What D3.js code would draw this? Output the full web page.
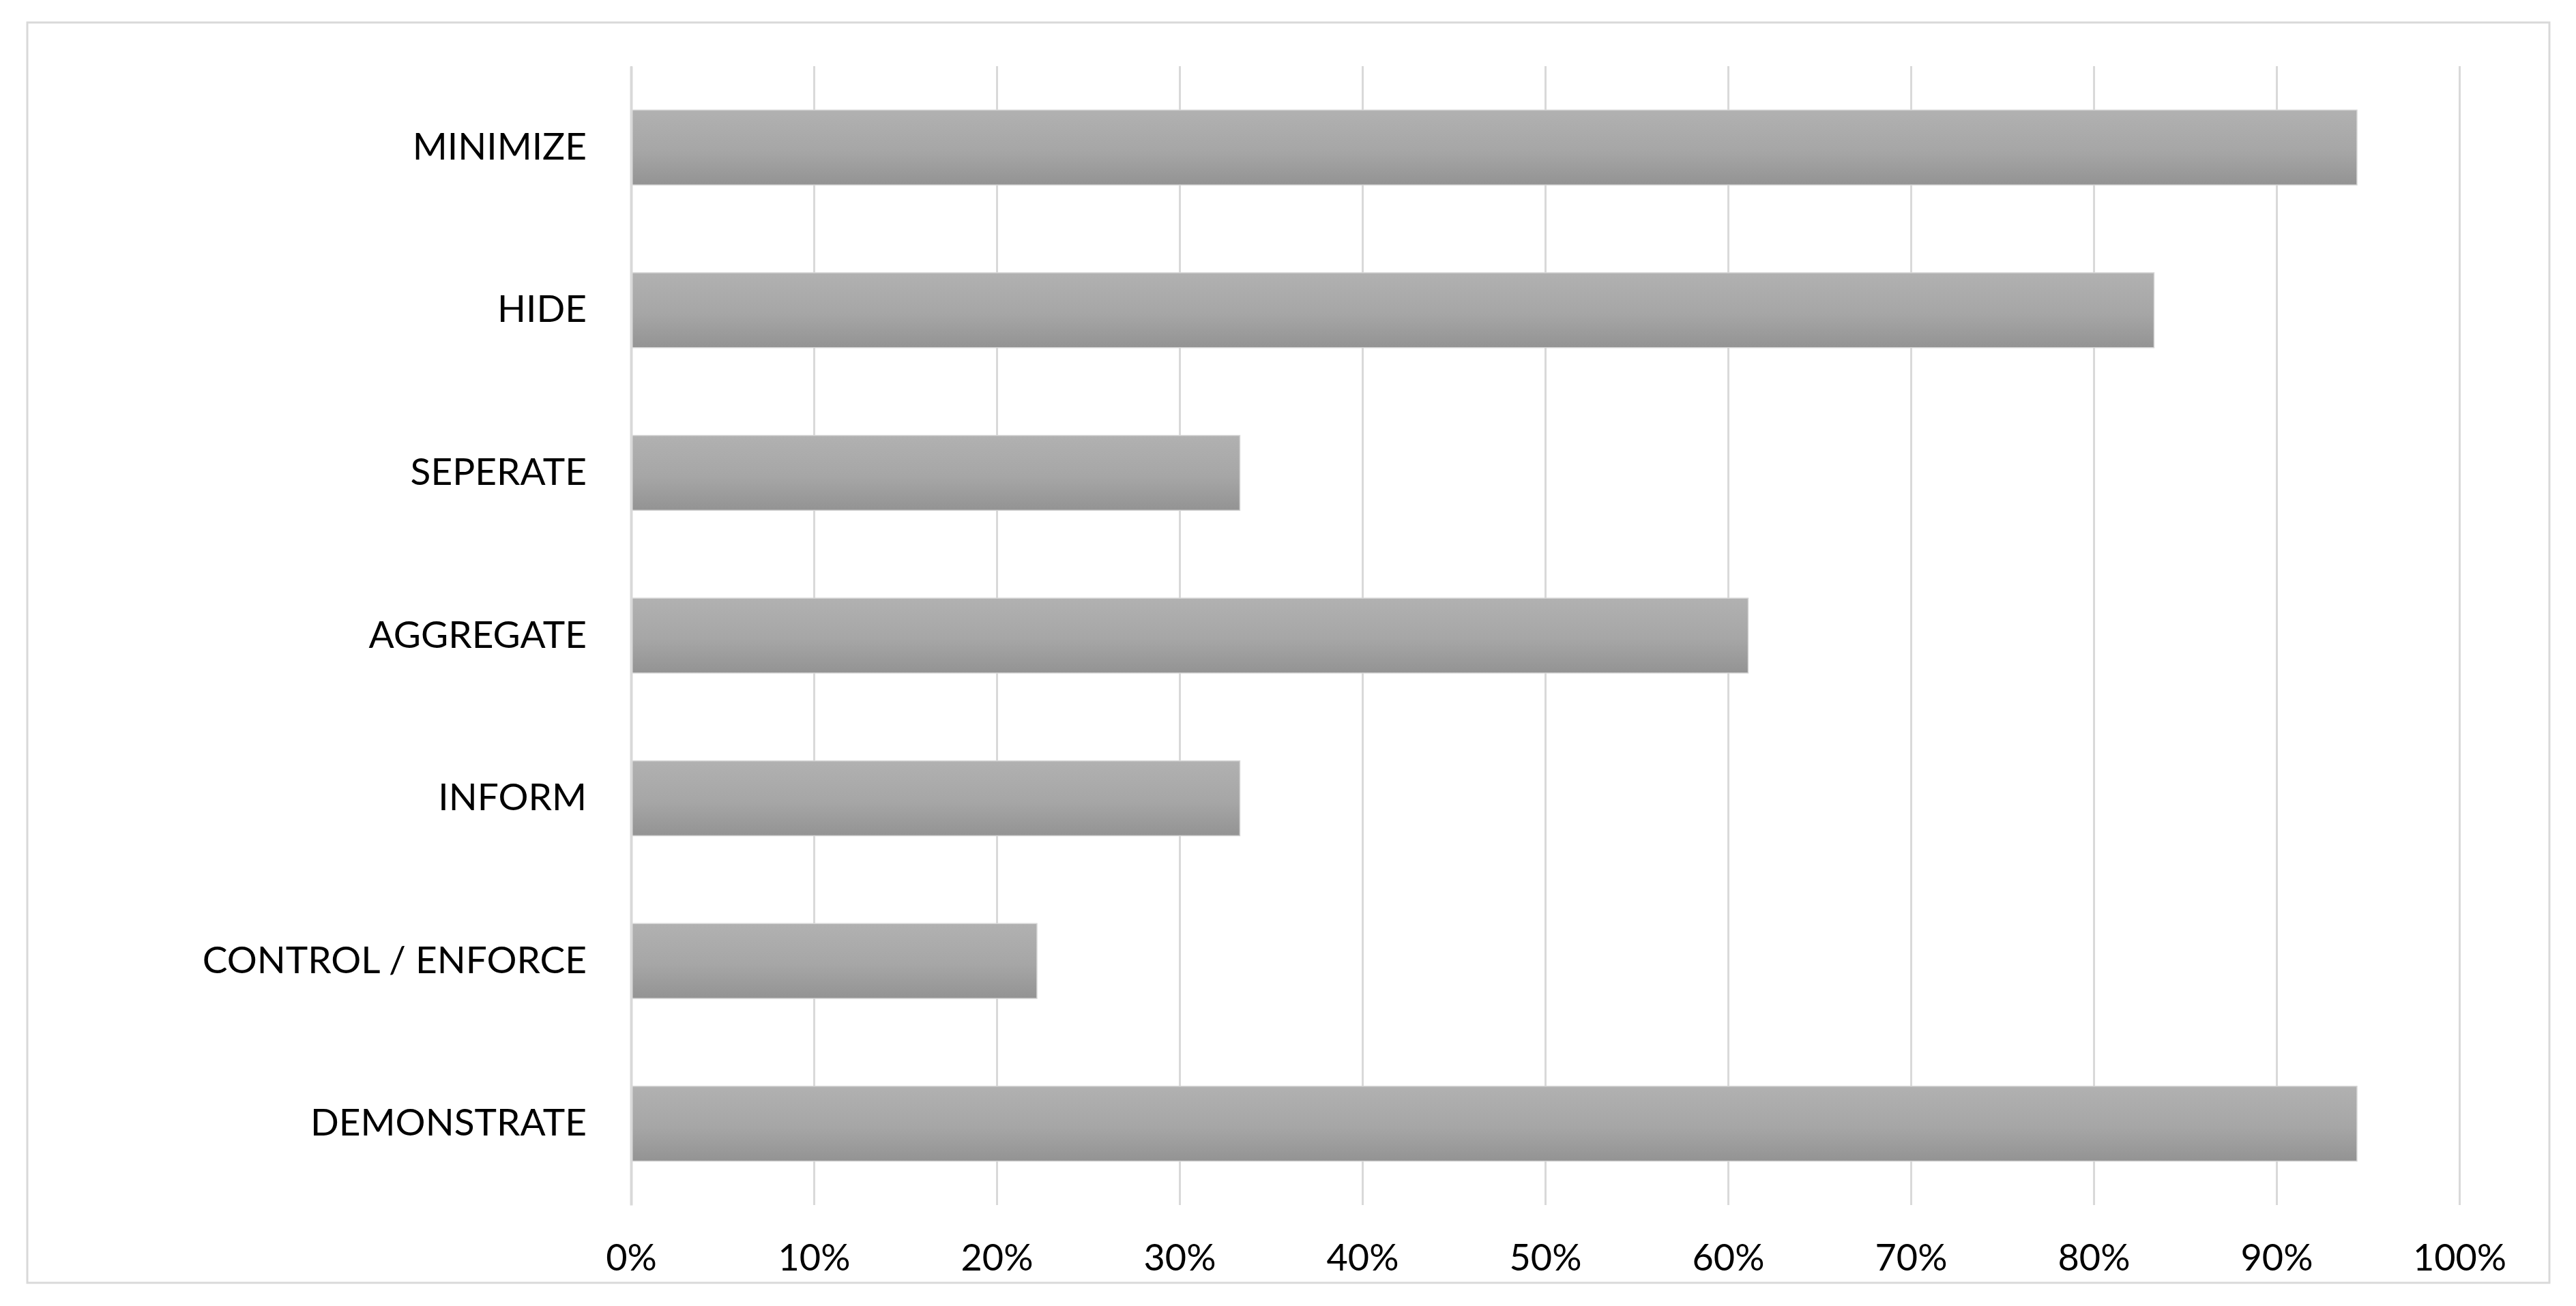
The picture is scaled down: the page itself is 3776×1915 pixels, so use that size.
<!DOCTYPE html>
<html>
<head>
<meta charset="utf-8">
<script src="https://cdnjs.cloudflare.com/ajax/libs/d3/7.8.5/d3.min.js"></script>
<style>
  body { margin: 0; background: #fff; }
  svg text { font-family: Lato, "Open Sans", sans-serif; fill: #000; }
</style>
</head>
<body>
<div id="chart"></div>
<script>
/* chart data */
const categories = ["MINIMIZE", "HIDE", "SEPERATE", "AGGREGATE", "INFORM", "CONTROL / ENFORCE", "DEMONSTRATE"];
const shares = [0.944, 0.833, 0.333, 0.611, 0.333, 0.222, 0.944];
const tickValues = [0, 0.1, 0.2, 0.3, 0.4, 0.5, 0.6, 0.7, 0.8, 0.9, 1.0];

/* svg size */
const width = 3776;
const height = 1915;

const plot = { left: 925, right: 3605, top: 97, bottom: 1767 };

const x = d3.scaleLinear()
    .domain([0, 1])
    .range([plot.left, plot.right]);

const y = d3.scaleBand()
    .domain(categories)
    .range([plot.top, plot.bottom])
    .paddingInner(0.54)
    .paddingOuter(0.27);

let svg = d3.select("#chart").append("svg")
    .attr("width", width)
    .attr("height", height);

/* bar gradient */
let grad = svg.append("defs").append("linearGradient")
    .attr("id", "barGrad")
    .attr("x1", 0).attr("y1", 0)
    .attr("x2", 0).attr("y2", 1);
grad.append("stop").attr("offset", "0%").attr("stop-color", "#b1b1b1");
grad.append("stop").attr("offset", "55%").attr("stop-color", "#a6a6a6");
grad.append("stop").attr("offset", "100%").attr("stop-color", "#939393");

/* chart frame */
svg.append("rect")
    .attr("x", 40)
    .attr("y", 33)
    .attr("width", 3697)
    .attr("height", 1848)
    .attr("fill", "#fff")
    .attr("stroke", "#d9d9d9")
    .attr("stroke-width", 3);

/* gridlines + tick labels from the axis */
const xAxis = d3.axisBottom(x)
    .tickValues(tickValues)
    .tickFormat(d3.format(".0%"))
    .tickSize(-(plot.bottom - plot.top))
    .tickSizeOuter(0)
    .tickPadding(58);

let gx = svg.append("g")
    .attr("transform", "translate(0," + plot.bottom + ")")
    .call(xAxis);

gx.select(".domain").remove();
gx.selectAll(".tick line")
    .attr("stroke", "#d9d9d9")
    .attr("stroke-width", 3);
gx.selectAll(".tick text")
    .style("font-size", "54px")
    .attr("fill", "#000");

/* bars */
svg.selectAll(".bar")
    .data(shares)
    .enter().append("rect")
    .attr("class", "bar")
    .attr("x", x(0))
    .attr("y", function (d, i) { return y(categories[i]); })
    .attr("width", function (d) { return x(d) - x(0); })
    .attr("height", y.bandwidth())
    .attr("fill", "url(#barGrad)")
    .attr("stroke", "#d4d4d4")
    .attr("stroke-width", 1.5);

/* category axis */
const yAxis = d3.axisLeft(y)
    .tickSize(0)
    .tickPadding(65);

let gy = svg.append("g")
    .attr("transform", "translate(" + plot.left + ",0)")
    .call(yAxis);

gy.select(".domain")
    .attr("stroke", "#d9d9d9")
    .attr("stroke-width", 4);
gy.selectAll(".tick text")
    .style("font-size", "55px")
    .attr("fill", "#000");
</script>
</body>
</html>
